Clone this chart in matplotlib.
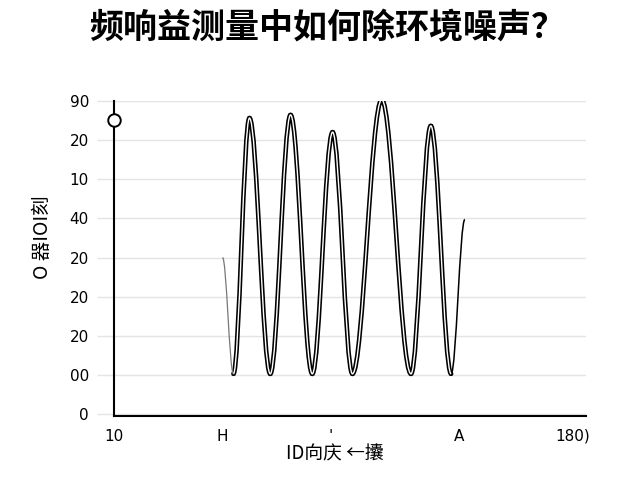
import matplotlib
matplotlib.use("Agg")
import matplotlib.pyplot as plt
from matplotlib.path import Path
from matplotlib.patches import PathPatch

plt.rcParams['font.family'] = ['Noto Sans CJK SC', 'DejaVu Sans']

title = "频响益测量中如何除环境噪声？"
x_label = "ID向庆 ←攮"
y_label = "O 器IOI刻"

y_ticks = [0, 1, 2, 3, 4, 5, 6, 7, 8]
y_tick_labels = ["0", "00", "20", "20", "20", "40", "10", "20", "90"]
x_ticks = [0, 22.9, 45.9, 73.0, 97.2]
x_tick_labels = ["10", "H", "'", "A", "180)"]

# extrema of the response curve (start, troughs/peaks, end)
curve_x = [23.0, 25.3, 28.7, 33.1, 37.4, 42.0, 46.3, 50.5, 56.7, 62.9, 67.1, 71.4, 74.3]
curve_y = [4.0, 1.03, 7.56, 1.03, 7.64, 1.03, 7.2, 1.03, 8.03, 1.03, 7.36, 1.03, 4.97]

marker_x = [0]
marker_y = [7.5]


def wave_path(xs, ys, k=0.3642):
    verts = [(xs[0], ys[0])]
    codes = [Path.MOVETO]
    for i in range(1, len(xs)):
        dx = xs[i] - xs[i - 1]
        verts += [(xs[i - 1] + k * dx, ys[i - 1]), (xs[i] - k * dx, ys[i]), (xs[i], ys[i])]
        codes += [Path.CURVE4] * 3
    return Path(verts, codes)


fig = plt.figure(figsize=(6.4, 4.8), dpi=100)
ax = fig.add_axes([0.178, 0.133, 0.738, 0.657])

main = wave_path(curve_x[1:-1], curve_y[1:-1])
ax.add_patch(PathPatch(main, fill=False, edgecolor="black", lw=3.3, capstyle="round", zorder=3))
ax.add_patch(PathPatch(main, fill=False, edgecolor="white", lw=1.0, zorder=4))
ax.add_patch(PathPatch(wave_path(curve_x[:2], curve_y[:2]), fill=False, edgecolor="#777777", lw=0.9, zorder=3))
ax.add_patch(PathPatch(wave_path(curve_x[-2:], curve_y[-2:]), fill=False, edgecolor="black", lw=1.1, zorder=3))

ax.plot(marker_x, marker_y, "o", ms=9, mfc="white", mec="black", mew=1.4, zorder=6, clip_on=False)

ax.set_xlim(0, 100)
ax.set_ylim(-0.05, 8.0)
ax.set_yticks(y_ticks)
ax.set_yticklabels(y_tick_labels)
ax.set_xticks(x_ticks)
ax.set_xticklabels(x_tick_labels)
ax.grid(axis="y", color="#e4e4e4", lw=1.0)
ax.tick_params(axis="y", length=12, color="#e4e4e4", width=1.0, pad=6, labelsize=11)
ax.tick_params(axis="x", length=0, pad=9, labelsize=11)
for lab in ax.get_yticklabels() + ax.get_xticklabels():
    lab.set_family("DejaVu Sans")

for s in ["top", "right"]:
    ax.spines[s].set_visible(False)
ax.spines["left"].set_linewidth(1.5)
ax.spines["bottom"].set_linewidth(1.5)

ax.set_xlabel(x_label, fontsize=13.5, va="center")
ax.xaxis.set_label_coords(0.468, -0.121)
ax.set_ylabel(y_label, fontsize=14, va="center")
ax.yaxis.set_label_coords(-0.152, 0.567)
fig.text(0.511, 0.944, title, ha="center", va="center", fontsize=24.5, fontweight="bold")

fig.savefig("out.png", dpi=100)
